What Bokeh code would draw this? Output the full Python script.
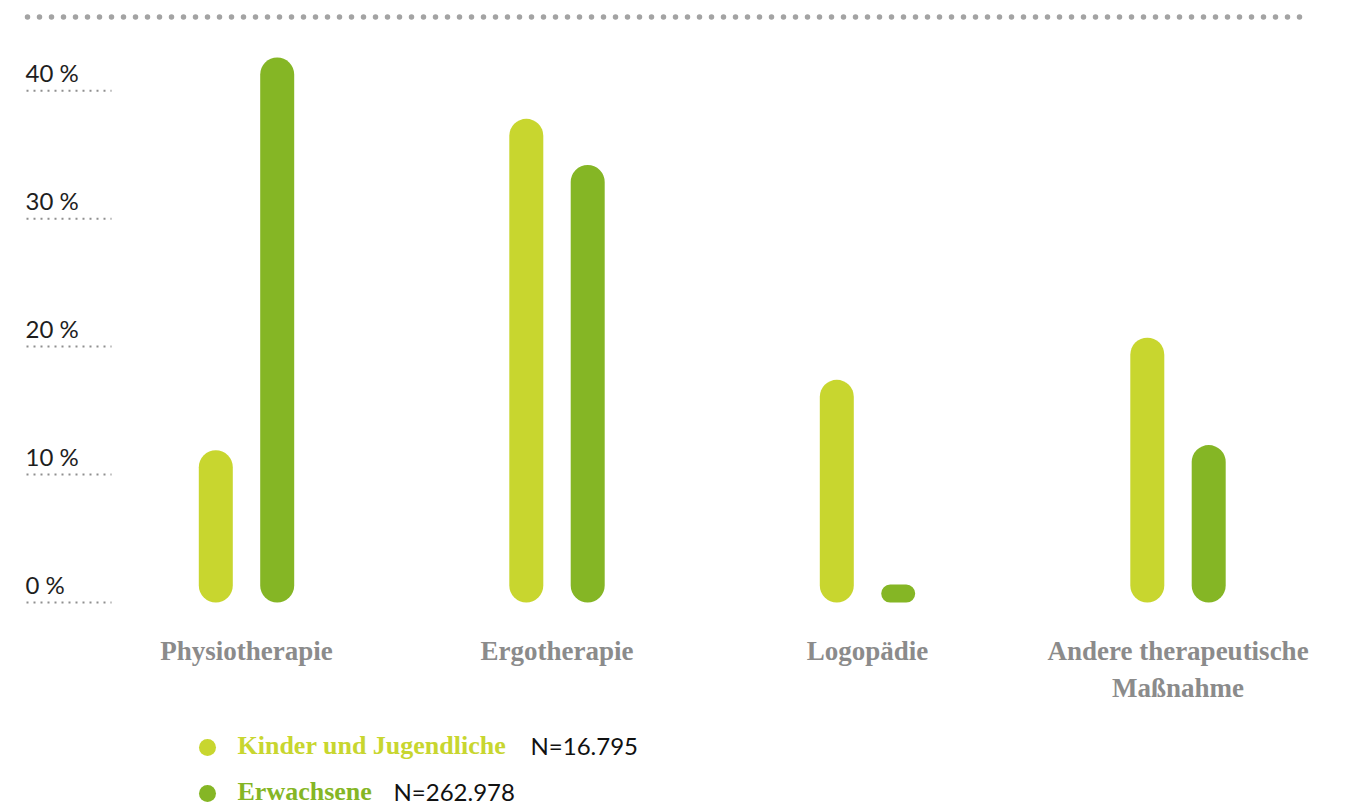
from bokeh.plotting import figure
from bokeh.models import Range1d, ColumnDataSource
from bokeh.core.properties import value
from bokeh.embed import file_html
from bokeh.resources import INLINE

# ---------------- data ----------------
categories = ["Physiotherapie", "Ergotherapie", "Logopädie", "Andere therapeutische\nMaßnahme"]
kinder = [11.9, 37.8, 17.4, 20.7]        # Kinder und Jugendliche, %
erwachsene = [42.6, 34.2, 1.4, 12.3]     # Erwachsene, %
series_names = ["Kinder und Jugendliche", "Erwachsene"]
series_n = ["N=16.795", "N=262.978"]
tick_values = [0, 10, 20, 30, 40]
tick_labels = ["0 %", "10 %", "20 %", "30 %", "40 %"]

# ---------------- layout / style ----------------
W, H = 1345, 807
UNIT = 310.5            # px per category
FIRST_PX = 246.0        # px position of first category centre
ZERO_PX = 602.0         # px position of 0 %
PX_PER_PCT = 12.795
TXT_SHIFT = 10          # px correction for alphabetic baseline rendering

LIGHT = "#c8d62f"
DARK = "#85b625"
GRAY_LABEL = "#8b8b8b"

X0 = -FIRST_PX / UNIT
X1 = X0 + W / UNIT
Y1 = ZERO_PX / PX_PER_PCT
Y0 = -(H - ZERO_PX) / PX_PER_PCT


def px_x(px):
    return X0 + px / UNIT


def px_y(py):
    return (ZERO_PX - py) / PX_PER_PCT


p = figure(width=W, height=H, x_range=Range1d(X0, X1), y_range=Range1d(Y0, Y1),
           x_axis_type=None, y_axis_type=None, toolbar_location=None,
           output_backend="svg", min_border=0, outline_line_color=None)
p.grid.visible = False
p.background_fill_color = "white"
p.border_fill_color = "white"

# top dotted rule
p.line(x=[px_x(27), px_x(1309)], y=[px_y(16.5)] * 2, line_color="#a3a3a3",
       line_width=5.5, line_dash="0 12", line_cap="round")

# y tick labels + small dotted lines
p.segment(x0=[px_x(26)] * len(tick_values), x1=[px_x(111)] * len(tick_values),
          y0=tick_values, y1=tick_values, line_color="#8f8f8f", line_width=2,
          line_dash="2 5")
p.text(x=[px_x(25)] * len(tick_values),
       y=[t + (8 + TXT_SHIFT) / PX_PER_PCT for t in tick_values], text=tick_labels,
       text_font=value("Lato"), text_font_size="24px",
       text_color="#1e1e1e", text_align="left", text_baseline="alphabetic")

# bars
idx = list(range(len(categories)))
OFF = 30.7 / UNIT
BW = 34 / UNIT
src = ColumnDataSource(dict(
    xk=[i - OFF for i in idx], xe=[i + OFF for i in idx],
    kinder=kinder, erwachsene=erwachsene))
p.vbar(x="xk", top="kinder", bottom=0, width=BW, source=src,
       fill_color=LIGHT, line_color=None, border_radius=17)
p.vbar(x="xe", top="erwachsene", bottom=0, width=BW, source=src,
       fill_color=DARK, line_color=None, border_radius=17)

# category labels
p.text(x=idx, y=[px_y(635)] * len(idx), text=categories,
       text_font=value("Liberation Serif"), text_font_style="bold",
       text_font_size="27px", text_color=GRAY_LABEL, text_align="center",
       text_baseline="top", text_line_height=1.26)

# legend
leg_y = [747, 793]
p.scatter(x=[px_x(207)] * 2, y=[px_y(v) for v in leg_y], size=17,
          fill_color=[LIGHT, DARK], line_color=None)
p.text(x=[px_x(237)] * 2, y=[px_y(v + 8 - TXT_SHIFT) for v in leg_y], text=series_names,
       text_font=value("Liberation Serif"), text_font_style="bold",
       text_font_size="26px", text_color=[LIGHT, DARK], text_align="left",
       text_baseline="alphabetic")
p.text(x=[px_x(530), px_x(393)], y=[px_y(v + 8 - TXT_SHIFT) for v in leg_y], text=series_n,
       text_font=value("Lato"), text_font_size="24px", text_color="#111111",
       text_align="left", text_baseline="alphabetic")

open("out.html", "w").write(file_html(p, INLINE))
